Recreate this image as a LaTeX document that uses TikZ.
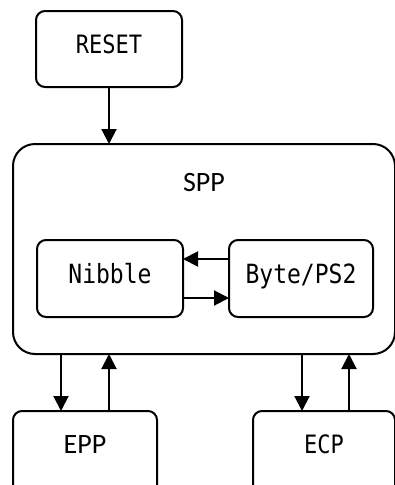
\documentclass[tikz,border=0pt]{standalone}
\usepackage{fontspec}
\usetikzlibrary{arrows.meta}
\newfontfamily\monofont{DejaVu Sans Mono}
\newfontfamily\uifont{Carlito}
% tall, narrow label text
\newcommand{\tallmono}[1]{\scalebox{1}[1.15]{#1}}
\begin{document}
\begin{tikzpicture}[x=1pt,y=-1pt,
  box/.style={draw=black,line width=2pt,rounded corners=9pt,fill=white,
    inner sep=0pt,outer sep=0pt},
  monotext/.style={font=\monofont\fontsize{23}{23}\selectfont,text height=19.3pt,text depth=10pt},
  uitext/.style={font=\uifont\fontsize{28}{28}\selectfont},
  arr/.style={line width=2pt,-{Triangle[length=15pt,width=15pt]}}]
  \useasboundingbox (0,0) rectangle (395,485);
  \clip (0,0) rectangle (395,485);
  % reset block
  \node[box,monotext,font=\monofont\fontsize{22}{22}\selectfont,text height=18.4pt,
        minimum width=146pt,minimum height=76pt] (reset) at (109,49) {\tallmono{RESET}};
  % standard parallel port block with its two sub-modes
  \node[box,rounded corners=22pt,minimum width=382pt,minimum height=210pt] (spp) at (204,249) {};
  \node[uitext] (spplabel) at (204,183) {SPP};
  \node[box,monotext,minimum width=146pt,minimum height=77pt] (nib) at (110,278.5) {\tallmono{Nibble}};
  \node[box,monotext,minimum width=144pt,minimum height=77pt] (byte) at (301,278.5) {\tallmono{Byte/PS2}};
  % enhanced modes
  \node[box,uitext,text height=18pt,text depth=23pt,
        minimum width=144pt,minimum height=89pt] (epp) at (85,455.5) {EPP};
  \node[box,monotext,font=\monofont\fontsize{22}{22}\selectfont,text height=18.4pt,text depth=23pt,
        minimum width=142pt,minimum height=89pt] (ecp) at (324,455.5) {\tallmono{ECP}};
  % connectors
  \draw[arr] (reset.south) -- (spp.north -| reset.south);
  \draw[arr] (byte.west |- 0,259) -- (nib.east |- 0,259);
  \draw[arr] (nib.east |- 0,298) -- (byte.west |- 0,298);
  \draw[arr] (spp.south -| 61,0) -- (epp.north -| 61,0);
  \draw[arr] (epp.north -| 109,0) -- (spp.south -| 109,0);
  \draw[arr] (spp.south -| 302,0) -- (ecp.north -| 302,0);
  \draw[arr] (ecp.north -| 349,0) -- (spp.south -| 349,0);
\end{tikzpicture}
\end{document}
